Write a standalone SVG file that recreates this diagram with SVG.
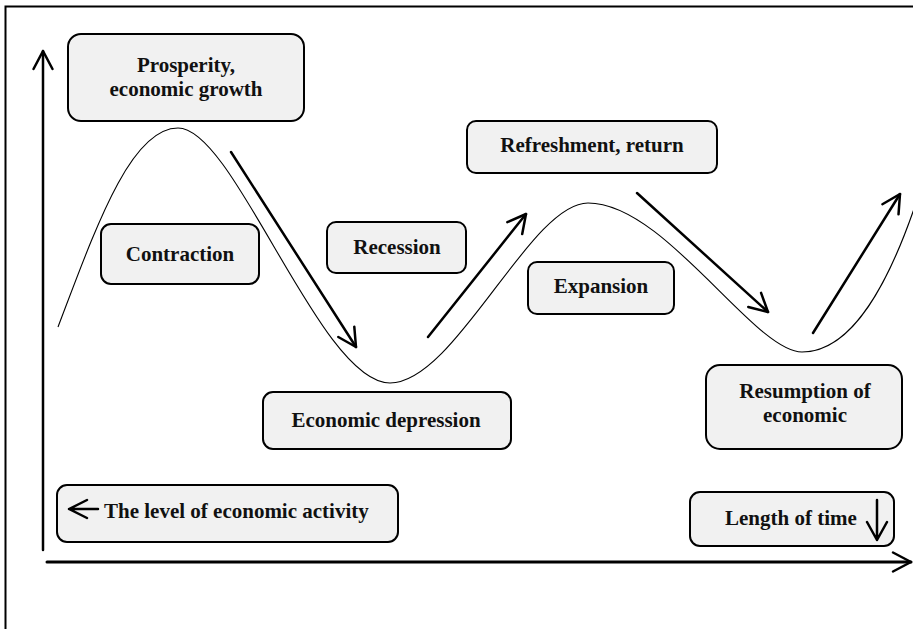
<svg xmlns="http://www.w3.org/2000/svg" width="913" height="629" viewBox="0 0 913 629">
<style>
.box{fill:#f1f1f1;stroke:#000;stroke-width:2}
.t{font-family:"Liberation Serif","Times New Roman",serif;font-weight:bold;font-size:21px;fill:#111}
.m{text-anchor:middle}
.ax{fill:none;stroke:#000;stroke-width:2.5;stroke-linecap:round;stroke-linejoin:round}
.ar{fill:none;stroke:#000;stroke-width:2.5;stroke-linecap:round;marker-end:url(#head)}
.curve{fill:none;stroke:#000;stroke-width:1.1}
</style>
<defs>
<marker id="head" markerUnits="userSpaceOnUse" markerWidth="30" markerHeight="30" refX="0" refY="0" viewBox="-22 -15 30 30" orient="auto" overflow="visible">
<path d="M-18,-9.5 L0,0 L-18,9.5" fill="none" stroke="#000" stroke-width="2.5" stroke-linecap="round" stroke-linejoin="round"/>
</marker>
</defs>
<rect width="913" height="629" fill="#fff"/>
<g id="frame">
<path d="M5.5,629 L5.5,6.5 L913,6.5" fill="none" stroke="#000" stroke-width="2"/>
</g>
<g id="axes">
<path class="ar" d="M43,550 L43,51"/>
<path class="ar" d="M47,562 L911,562" style="stroke-width:3"/>
</g>
<path id="wave" class="curve" d="M58,327 C95,230 130,128 178,128 C235,128 320,383 390,383 C455,383 530,203 588,203 C665,203 754,352 802,352 C850,352 890,290 925,175"/>
<g id="connectors">
<path class="ar" d="M231,152 L356,347"/>
<path class="ar" d="M428,337 L526,214"/>
<path class="ar" d="M637,193 L768,312"/>
<path class="ar" d="M813,333 L900,194"/>
</g>
<g id="prosperity">
<rect class="box" x="68" y="34" width="236" height="87" rx="13"/>
<text class="t m" x="186" y="72">Prosperity,</text>
<text class="t m" x="186" y="96">economic growth</text>
</g>
<g id="contraction">
<rect class="box" x="101" y="224" width="158" height="60" rx="10"/>
<text class="t m" x="180" y="261">Contraction</text>
</g>
<g id="recession">
<rect class="box" x="327" y="222" width="139" height="51" rx="9"/>
<text class="t m" x="397" y="254">Recession</text>
</g>
<g id="refreshment">
<rect class="box" x="467" y="121" width="250" height="52" rx="9"/>
<text class="t m" x="592" y="152">Refreshment, return</text>
</g>
<g id="expansion">
<rect class="box" x="528" y="262" width="146" height="52" rx="9"/>
<text class="t m" x="601" y="293">Expansion</text>
</g>
<g id="depression">
<rect class="box" x="263" y="392" width="248" height="57" rx="10"/>
<text class="t m" x="386" y="427">Economic depression</text>
</g>
<g id="resumption">
<rect class="box" x="706" y="365" width="196" height="84" rx="14"/>
<text class="t m" x="805" y="398">Resumption of</text>
<text class="t m" x="805" y="422">economic</text>
</g>
<g id="level">
<rect class="box" x="57" y="485" width="341" height="57" rx="10"/>
<path class="ax" d="M98,509 L69,509 M87,500 L69,509 L87,518"/>
<text class="t" x="104" y="518">The level of economic activity</text>
</g>
<g id="length">
<rect class="box" x="690" y="492" width="204" height="54" rx="10"/>
<text class="t" x="725" y="525">Length of time</text>
<path class="ax" d="M877,500 L877,540 M867,522 L877,540 L887,522"/>
</g>
</svg>
